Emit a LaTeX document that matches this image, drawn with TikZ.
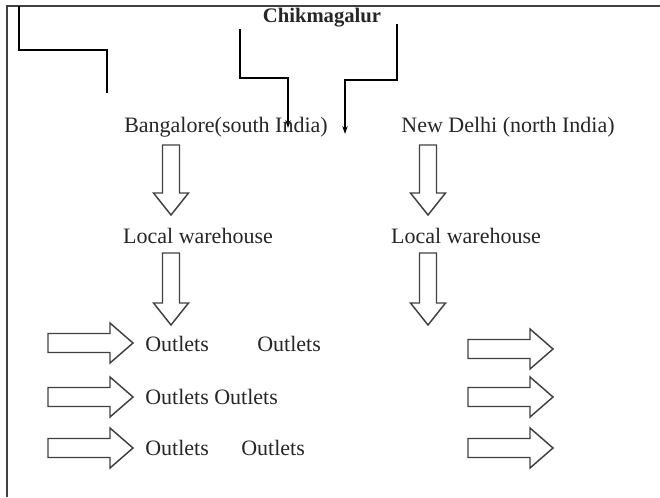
\documentclass[tikz,border=0pt]{standalone}
\usepackage{fontspec}
\setmainfont{Liberation Serif}
\usetikzlibrary{arrows.meta}
\newcommand{\blkdown}[3]{%
  \draw[blk] ({#1-8.5},#2) -- ({#1+8.5},#2) -- ({#1+8.5},{#3-22}) -- ({#1+17.5},{#3-22}) -- (#1,#3) -- ({#1-17.5},{#3-22}) -- ({#1-8.5},{#3-22}) -- cycle;}
\newcommand{\blkright}[3]{%
  \draw[blk] (#1,{#3-9.5}) -- ({#2-23},{#3-9.5}) -- ({#2-23},{#3-20}) -- (#2,#3) -- ({#2-23},{#3+20}) -- ({#2-23},{#3+9.5}) -- (#1,{#3+9.5}) -- cycle;}
\begin{document}
\begin{tikzpicture}[x=0.75pt,y=-0.75pt,
  lbl/.style={inner sep=0pt,font=\fontsize{16.5}{18}\selectfont,text=black!85},
  blk/.style={draw=black!75,line width=1.1pt,line join=miter},
  frame/.style={draw=black!75,line width=1.6pt},
  conn/.style={draw=black,line width=1.2pt},
  arr/.style={conn,-{Stealth[length=6pt,width=4pt]}}]
\useasboundingbox (0,0) rectangle (660,497);
% frame
\draw[frame] (7,497) -- (7,6) -- (660,6);
\coordinate (l0) at (19,6);
\coordinate (l1) at (107,93);
\draw[conn] (l0) -- (19,50) -| (l1);
% title
\node[lbl,font=\fontsize{15.5}{18}\selectfont\bfseries] (chik) at (322,18) {Chikmagalur};
\coordinate (c1s) at (240,29);
\coordinate (c1e) at (288,128);
\coordinate (c2s) at (397,24);
\coordinate (c2e) at (345,134);
\draw[arr] (c1s) -- (240,78) -| (c1e);
\draw[arr] (c2s) -- (397,80) -| (c2e);
% cities
\node[lbl] (blr) at (226,127) {Bangalore(south India)};
\node[lbl] (del) at (508,127) {New Delhi (north India)};
\node[lbl] (lw1) at (198,236) {Local warehouse};
\node[lbl] (lw2) at (466,236) {Local warehouse};
% down block arrows
\blkdown{171}{145}{215}
\blkdown{428}{145}{215}
\blkdown{171}{253}{325}
\blkdown{428}{253}{325}
% right block arrows
\blkright{48}{133}{343}
\blkright{48}{133}{397}
\blkright{48}{133}{448}
\blkright{468}{553}{349}
\blkright{468}{553}{397}
\blkright{468}{553}{448}
% outlets
\node[lbl,anchor=west] (o11) at (145,344) {Outlets};
\node[lbl,anchor=west] (o12) at (257,344) {Outlets};
\node[lbl,anchor=west] (o21) at (145,397) {Outlets Outlets};
\node[lbl,anchor=west] (o31) at (145,448) {Outlets};
\node[lbl,anchor=west] (o32) at (241,448) {Outlets};
\end{tikzpicture}
\end{document}
